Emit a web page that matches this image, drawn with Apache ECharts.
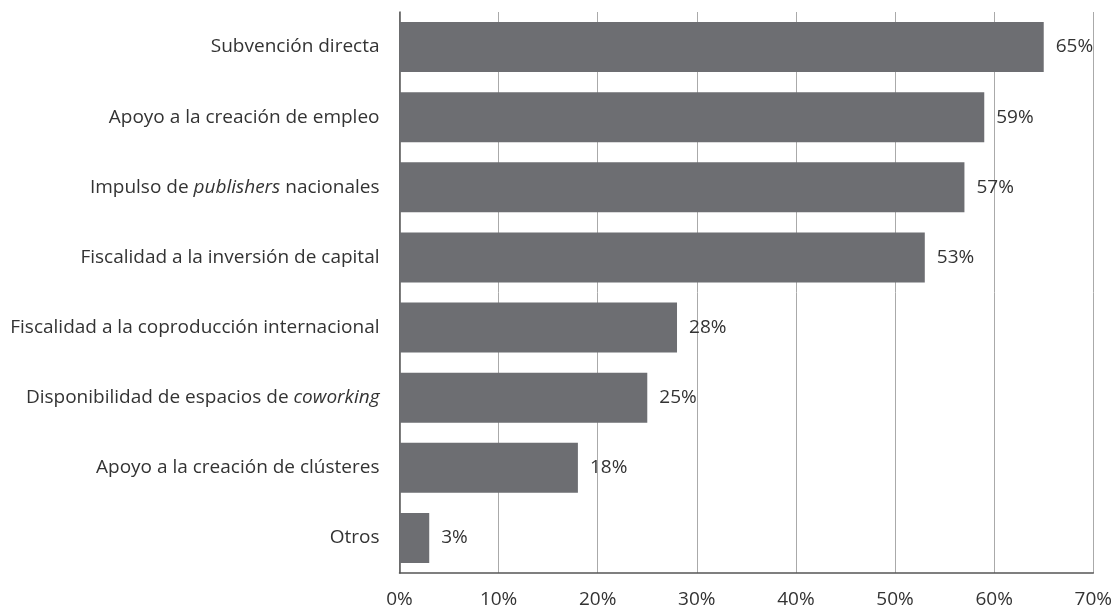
<!DOCTYPE html>
<html>
<head>
<meta charset="utf-8">
<script src="https://cdn.jsdelivr.net/npm/echarts@6/dist/echarts.min.js"></script>
<style>
    html, body { margin: 0; padding: 0; background: #fff; }
    #chart { width: 1115px; height: 610px; }
</style>
</head>
<body>
<div id="chart"></div>
<script>
    // categories top to bottom, {i|...} = italic part
    var categories = [
        'Subvención directa',
        'Apoyo a la creación de empleo',
        'Impulso de {i|publishers} nacionales',
        'Fiscalidad a la inversión de capital',
        'Fiscalidad a la coproducción internacional',
        'Disponibilidad de espacios de {i|coworking}',
        'Apoyo a la creación de clústeres',
        'Otros'
    ]
    var values = [65, 59, 57, 53, 28, 25, 18, 3]
    var xTicks = [0, 10, 20, 30, 40, 50, 60, 70]

    var font = 'Open Sans'
    var myChart = echarts.init(document.getElementById('chart'))
    var option = {
        animation: false,
        grid: {
            left: 399.5,
            right: 19,
            top: 12,
            bottom: 37,
            containLabel: false
        },
        xAxis: {
            type: 'value',
            min: xTicks[0],
            max: xTicks[xTicks.length - 1],
            interval: 10,
            axisLine: {show: true, lineStyle: {color: '#555', width: 1.5}},
            axisTick: {show: false},
            splitLine: {show: true, lineStyle: {color: '#aaa', width: 1}},
            axisLabel: {
                formatter: '{value}%',
                color: '#333',
                fontFamily: font,
                fontSize: 19,
                margin: 17
            }
        },
        yAxis: {
            type: 'category',
            inverse: true,
            data: categories,
            axisLine: {show: true, lineStyle: {color: '#555', width: 1.5}},
            axisTick: {show: false},
            axisLabel: {
                color: '#333',
                fontFamily: font,
                fontSize: 19,
                margin: 20,
                rich: {
                    i: {fontStyle: 'italic', color: '#333', fontFamily: font, fontSize: 19}
                }
            }
        },
        series: [
            {
                type: 'bar',
                data: values,
                barWidth: 50,
                itemStyle: {color: '#6d6e72'},
                label: {
                    show: true,
                    position: 'right',
                    distance: 12,
                    formatter: '{c}%',
                    color: '#333',
                    fontFamily: font,
                    fontSize: 19
                }
            }
        ]
    }
    option && myChart.setOption(option)
</script>
</body>
</html>
